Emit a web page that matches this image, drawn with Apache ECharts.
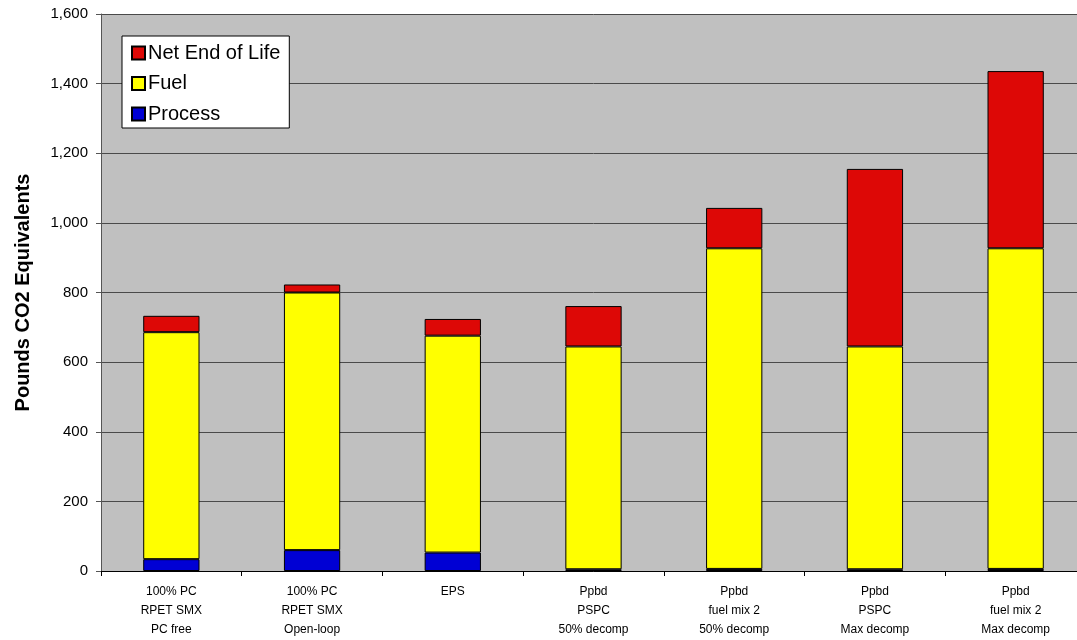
<!DOCTYPE html>
<html>
<head>
<meta charset="utf-8">
<script src="https://cdn.jsdelivr.net/npm/echarts@6/dist/echarts.min.js"></script>
<style>
  html, body { margin: 0; padding: 0; background: #ffffff; overflow: hidden; }
  /* the plot area runs past the right edge of the window */
  #chart { width: 1100px; height: 640px; }
</style>
</head>
<body>
<div id="chart"></div>
<script>
// Packaging scenarios (three-line category labels)
const categories = [
  '100% PC\nRPET SMX\nPC free',
  '100% PC\nRPET SMX\nOpen-loop',
  'EPS',
  'Ppbd\nPSPC\n50% decomp',
  'Ppbd\nfuel mix 2\n50% decomp',
  'Ppbd\nPSPC\nMax decomp',
  'Ppbd\nfuel mix 2\nMax decomp'
];

// Pounds CO2 equivalents per life-cycle stage
const processValues = [34, 60, 53, 5, 6, 5, 6];
const fuelValues = [652, 740, 623, 640, 921, 640, 921];
const endOfLifeValues = [47, 23, 48, 116, 116, 510, 509];

// Value axis ticks
const yTicks = [0, 200, 400, 600, 800, 1000, 1200, 1400, 1600];

const FONT = '"Liberation Sans", Arial, sans-serif';

const chart = echarts.init(document.getElementById('chart'), null, { renderer: 'canvas' });

function stackSeries(name, data, color) {
  return {
    name: name,
    type: 'bar',
    stack: 'total',
    data: data,
    barWidth: '40%',
    itemStyle: { color: color, borderColor: '#000000', borderWidth: 1 },
    emphasis: { disabled: true }
  };
}

chart.setOption({
  animation: false,
  grid: {
    left: 101,
    right: 14,
    top: 14,
    bottom: 69,
    outerBoundsMode: 'none',
    show: true,
    backgroundColor: '#C0C0C0',
    borderWidth: 0
  },
  legend: {
    data: ['Net End of Life', 'Fuel', 'Process'],
    orient: 'vertical',
    left: 122,
    top: 36,
    itemWidth: 13,
    itemHeight: 13,
    itemGap: 10.5,
    padding: [7, 9, 4, 9],
    backgroundColor: '#ffffff',
    borderColor: '#000000',
    borderWidth: 1,
    borderRadius: 0,
    icon: 'rect',
    selectedMode: false,
    textStyle: { fontFamily: FONT, fontSize: 20, lineHeight: 19, color: '#000000', padding: [0, 0, 0, -2] }
  },
  xAxis: {
    type: 'category',
    data: categories,
    axisLine: { show: true, lineStyle: { color: '#000000', width: 1 } },
    axisTick: { show: true, inside: false, length: 5, interval: 0, lineStyle: { color: '#000000' } },
    axisLabel: {
      interval: 0,
      margin: 11,
      fontFamily: FONT,
      fontSize: 12,
      lineHeight: 19,
      color: '#000000',
      align: 'center',
      verticalAlign: 'top'
    },
    splitLine: { show: false }
  },
  yAxis: {
    type: 'value',
    min: yTicks[0],
    max: yTicks[yTicks.length - 1],
    interval: yTicks[1] - yTicks[0],
    name: 'Pounds CO2 Equivalents',
    nameLocation: 'middle',
    nameRotate: 90,
    nameGap: 68,
    nameTextStyle: { fontFamily: FONT, fontSize: 20, fontWeight: 'bold', color: '#000000' },
    axisLine: { show: true, lineStyle: { color: '#555555', width: 1 } },
    axisTick: { show: true, inside: false, length: 5, lineStyle: { color: '#555555' } },
    axisLabel: {
      margin: 13,
      fontFamily: FONT,
      fontSize: 15,
      color: '#000000',
      formatter: function (v) { return v.toLocaleString('en-US'); }
    },
    splitLine: { show: true, lineStyle: { color: '#4a4a4a', width: 1 } }
  },
  series: [
    stackSeries('Process', processValues, '#0000D4'),
    stackSeries('Fuel', fuelValues, '#FFFF00'),
    stackSeries('Net End of Life', endOfLifeValues, '#DD0806')
  ]
});
</script>
</body>
</html>
